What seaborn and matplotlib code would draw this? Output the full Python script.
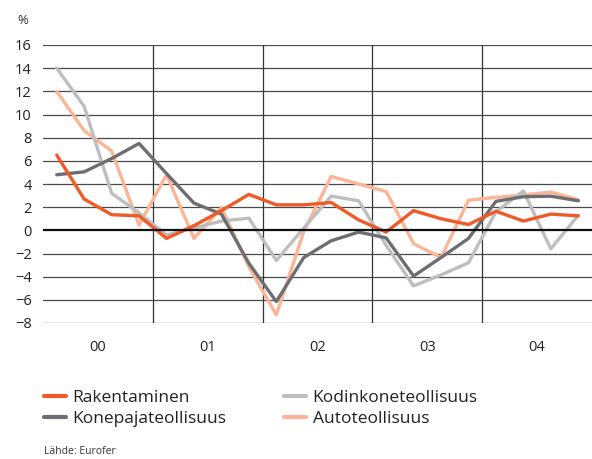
import pandas as pd
import numpy as np
import matplotlib
matplotlib.use("Agg")
import matplotlib.pyplot as plt
import seaborn as sns

# quarterly change, %, 2000 Q1 .. 2004 Q4
quarters = list(range(20))
years = ["00", "01", "02", "03", "04"]

rakentaminen = [6.5, 2.7, 1.35, 1.25, -0.7, 0.4, 1.7, 3.1, 2.2, 2.2,
                2.4, 0.9, -0.15, 1.7, 1.0, 0.5, 1.65, 0.8, 1.4, 1.25]
kodinkone = [14.0, 10.7, 3.2, 1.5, -0.4, 0.2, 0.8, 1.05, -2.6, 0.2,
             2.95, 2.55, -1.3, -4.8, -3.85, -2.8, 1.6, 3.4, -1.6, 1.3]
konepaja = [4.8, 5.05, 6.2, 7.5, 4.9, 2.35, 1.4, -2.85, -6.15, -2.35,
            -0.9, -0.15, -0.65, -3.95, -2.35, -0.7, 2.5, 2.9, 2.95, 2.55]
auto = [12.0, 8.6, 6.85, 0.45, 4.8, -0.7, 1.95, -3.15, -7.3, -0.1,
        4.65, 4.0, 3.35, -1.15, -2.35, 2.6, 2.85, 3.05, 3.3, 2.65]

series_names = ["Rakentaminen", "Konepajateollisuus", "Kodinkoneteollisuus", "Autoteollisuus"]
colors = ["#F05A28", "#6D6E71", "#BDBEC0", "#FBB596"]

df = pd.DataFrame({
    "x": quarters * 4,
    "value": rakentaminen + konepaja + kodinkone + auto,
    "series": sum([[n] * 20 for n in series_names], []),
})

sns.set_style("white")
plt.rcParams["font.family"] = ["Open Sans", "DejaVu Sans"]

fig = plt.figure(figsize=(5.92, 4.59), dpi=100)
ax = fig.add_axes([43 / 592, 136 / 459, 549 / 592, 278 / 459])

# grid first so the series sit on top
for v in range(-8, 17, 2):
    if v == 0:
        continue
    ax.axhline(v, color="#4a4a4a", lw=0.9, zorder=1)
for b in [3.5, 7.5, 11.5, 15.5]:
    ax.axvline(b, color="#333333", lw=0.9, zorder=1)

# reversed order so the red line is drawn last (on top)
sns.lineplot(data=df, x="x", y="value", hue="series", hue_order=series_names[::-1],
             palette=dict(zip(series_names, colors)), linewidth=2.4, ax=ax,
             legend=False, zorder=3)

ax.axhline(0, color="#111111", lw=1.6, zorder=4)

ax.set_xlim(-0.5, 19.5)
ax.set_ylim(-8, 16)
ax.set_yticks(range(-8, 17, 2))
ax.set_yticklabels([str(v).replace("-", "\u2212") if v < 0 else str(v) for v in range(-8, 17, 2)],
                   fontsize=10.5, color="#222222")
ax.set_xticks([1.5, 5.5, 9.5, 13.5, 17.5])
ax.set_xticklabels(years, fontsize=10.5, color="#222222")
ax.tick_params(axis="both", length=0)
ax.tick_params(axis="x", pad=12)
ax.tick_params(axis="y", pad=8)
ax.set_xlabel("")
ax.set_ylabel("")
for s in ax.spines.values():
    s.set_visible(False)

fig.text(17 / 592, 1 - 20 / 459, "%", fontsize=9.5, color="#333333", va="center")

handles = [plt.Line2D([], [], color=c, lw=3) for c in colors]
fig.legend(handles, series_names, ncol=2, loc="upper left",
           bbox_to_anchor=(44 / 592, 1 - 390 / 459), frameon=False,
           borderaxespad=0, borderpad=0,
           fontsize=12.5, handlelength=1.25, handletextpad=0.4,
           columnspacing=3.3, labelspacing=0.28, labelcolor="#222222")

fig.text(44 / 592, 1 - 452 / 459, "Lähde: Eurofer", fontsize=7.5, color="#333333", va="center")

fig.savefig("out.png", dpi=100)
